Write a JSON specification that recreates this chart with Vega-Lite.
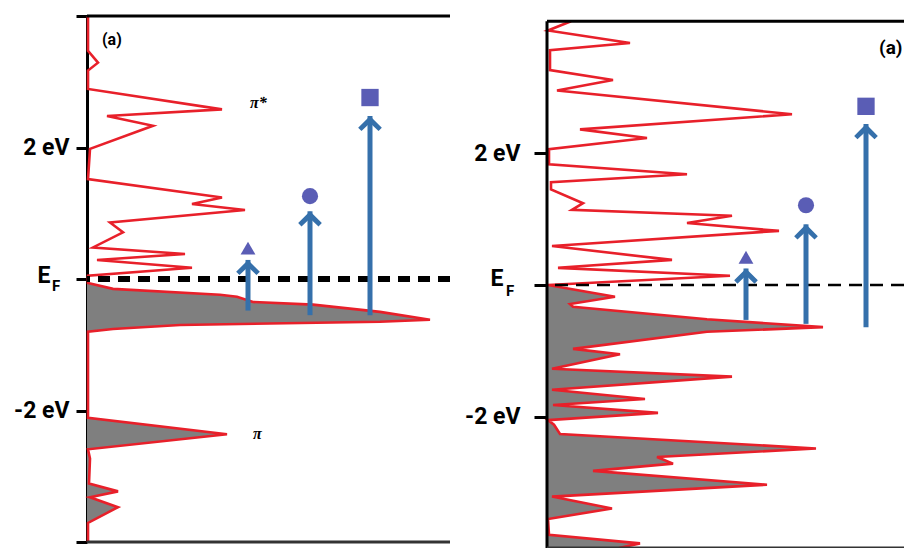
{
  "$schema": "https://vega.github.io/schema/vega-lite/v6.json",
  "padding": {"top": 5, "left": 0, "right": 0, "bottom": 0},
  "spacing": 0,
  "background": "white",
  "config": {"view": {"stroke": null}},
  "datasets": {
    "dosL": [
      {"E": 4.0, "d": 1}, {"E": 3.47, "d": 1}, {"E": 3.29, "d": 11}, {"E": 3.17, "d": 1}, {"E": 2.89, "d": 1},
      {"E": 2.58, "d": 135}, {"E": 2.48, "d": 20}, {"E": 2.33, "d": 66}, {"E": 1.98, "d": 3}, {"E": 1.52, "d": 1},
      {"E": 1.24, "d": 135}, {"E": 1.14, "d": 105}, {"E": 1.05, "d": 158}, {"E": 0.86, "d": 23}, {"E": 0.71, "d": 36},
      {"E": 0.48, "d": 6}, {"E": 0.38, "d": 98}, {"E": 0.29, "d": 10}, {"E": 0.17, "d": 105}, {"E": 0.05, "d": 1},
      {"E": 0.0, "d": 1}, {"E": -0.06, "d": 1}, {"E": -0.15, "d": 26}, {"E": -0.24, "d": 133}, {"E": -0.27, "d": 150},
      {"E": -0.35, "d": 166}, {"E": -0.39, "d": 226}, {"E": -0.5, "d": 293}, {"E": -0.62, "d": 343}, {"E": -0.65, "d": 293},
      {"E": -0.7, "d": 93}, {"E": -0.76, "d": 26}, {"E": -0.8, "d": 1}, {"E": -2.11, "d": 1}, {"E": -2.36, "d": 140},
      {"E": -2.59, "d": 1}, {"E": -2.73, "d": 3}, {"E": -3.11, "d": 2}, {"E": -3.23, "d": 31}, {"E": -3.32, "d": 3},
      {"E": -3.47, "d": 31}, {"E": -3.71, "d": 1}, {"E": -4.0, "d": 1}
    ],
    "dosR": [
      {"E": 4.0, "d": 24}, {"E": 3.86, "d": 1}, {"E": 3.67, "d": 83}, {"E": 3.56, "d": 3}, {"E": 3.26, "d": 3},
      {"E": 3.11, "d": 66}, {"E": 2.95, "d": 10}, {"E": 2.59, "d": 245}, {"E": 2.36, "d": 33}, {"E": 2.23, "d": 100},
      {"E": 2.06, "d": 2}, {"E": 1.83, "d": 2}, {"E": 1.68, "d": 140}, {"E": 1.56, "d": 4}, {"E": 1.45, "d": 4},
      {"E": 1.24, "d": 36}, {"E": 1.14, "d": 25}, {"E": 1.05, "d": 185}, {"E": 0.94, "d": 140}, {"E": 0.82, "d": 232},
      {"E": 0.59, "d": 5}, {"E": 0.38, "d": 125}, {"E": 0.26, "d": 11}, {"E": 0.14, "d": 183}, {"E": 0.0, "d": 1},
      {"E": -0.18, "d": 68}, {"E": -0.29, "d": 23}, {"E": -0.33, "d": 26}, {"E": -0.52, "d": 160}, {"E": -0.64, "d": 276},
      {"E": -0.71, "d": 160}, {"E": -0.97, "d": 26}, {"E": -1.05, "d": 73}, {"E": -1.27, "d": 5}, {"E": -1.39, "d": 185},
      {"E": -1.59, "d": 5}, {"E": -1.73, "d": 98}, {"E": -1.82, "d": 6}, {"E": -1.94, "d": 111}, {"E": -2.05, "d": 1},
      {"E": -2.12, "d": 7}, {"E": -2.26, "d": 13}, {"E": -2.48, "d": 269}, {"E": -2.61, "d": 110}, {"E": -2.71, "d": 126},
      {"E": -2.82, "d": 46}, {"E": -3.03, "d": 220}, {"E": -3.21, "d": 5}, {"E": -3.39, "d": 65}, {"E": -3.55, "d": 1},
      {"E": -3.79, "d": 2}, {"E": -3.92, "d": 93}, {"E": -3.99, "d": 72}
    ],
    "arrowsL": [
      {"d": 161, "from": -0.48, "to": 0.29, "m": "triangle", "mE": 0.47},
      {"d": 223, "from": -0.55, "to": 1.03, "m": "circle", "mE": 1.26},
      {"d": 283, "from": -0.55, "to": 2.48, "m": "square", "mE": 2.76}
    ],
    "arrowsR": [
      {"d": 199, "from": -0.53, "to": 0.25, "m": "triangle", "mE": 0.42},
      {"d": 259, "from": -0.59, "to": 0.92, "m": "circle", "mE": 1.21},
      {"d": 319, "from": -0.64, "to": 2.44, "m": "square", "mE": 2.71}
    ],
    "labelsL": [
      {"d": 15, "E": 3.64, "t": "(a)", "kind": "panel"},
      {"d": 163, "E": 2.68, "t": "π*", "kind": "orbital"},
      {"d": 166, "E": -2.36, "t": "π", "kind": "orbital"}
    ],
    "labelsR": [
      {"d": 332, "E": 3.6, "t": "(a)", "kind": "panel"}
    ]
  },
  "hconcat": [
    {
      "width": 363,
      "height": 526,
      "layer": [
        {
          "data": {"name": "dosL"},
          "transform": [{"filter": "datum.E <= 0"}],
          "mark": {"type": "area", "orient": "horizontal", "color": "#7f7f7f", "opacity": 1},
          "encoding": {
            "x": {"field": "d", "type": "quantitative", "stack": null, "scale": {"domain": [0, 363], "nice": false, "zero": false}, "axis": null},
            "y": {"field": "E", "type": "quantitative", "scale": {"domain": [-4, 4], "nice": false, "zero": false},
              "axis": {"values": [-4, -2, 0, 2, 4], "labelExpr": "datum.value == 2 ? '2 eV' : datum.value == -2 ? '-2 eV' : ''",
                "title": null, "grid": false, "domainColor": "black", "domainWidth": 3, "tickColor": "black", "tickWidth": 3,
                "tickSize": 11, "labelPadding": 7, "labelFont": "Roboto", "labelFontSize": 23, "labelFontWeight": "bold",
                "labelColor": "black", "labelFlush": false, "labelOverlap": false, "labelBound": false, "minExtent": 87, "maxExtent": 87}}
          }
        },
        {
          "data": {"name": "dosL"},
          "mark": {"type": "line", "color": "#e8202a", "strokeWidth": 2.6},
          "encoding": {
            "x": {"field": "d", "type": "quantitative"},
            "y": {"field": "E", "type": "quantitative"},
            "order": {"field": "E", "type": "quantitative"}
          }
        },
        {
          "data": {"values": [{}]},
          "mark": {"type": "rule", "color": "black", "strokeWidth": 3},
          "encoding": {"y": {"datum": 4}}
        },
        {
          "data": {"values": [{}]},
          "mark": {"type": "rule", "color": "#333333", "strokeWidth": 3},
          "encoding": {"y": {"datum": -4}}
        },
        {
          "data": {"values": [{}]},
          "mark": {"type": "rule", "color": "black", "strokeWidth": 6, "strokeDash": [12, 8]},
          "encoding": {"y": {"datum": 0}}
        },
        {
          "data": {"name": "arrowsL"},
          "mark": {"type": "rule", "color": "#3570ab", "strokeWidth": 5},
          "encoding": {
            "x": {"field": "d", "type": "quantitative"},
            "y": {"field": "from", "type": "quantitative"},
            "y2": {"field": "to"}
          }
        },
        {
          "data": {"name": "arrowsL"},
          "mark": {"type": "point", "shape": "M0,0L1,1L0.72,1.28L0,0.6L-0.72,1.28L-1,1Z", "filled": true, "color": "#3570ab", "opacity": 1, "size": 560},
          "encoding": {
            "x": {"field": "d", "type": "quantitative"},
            "y": {"field": "to", "type": "quantitative"}
          }
        },
        {
          "data": {"name": "arrowsL"},
          "mark": {"type": "point", "filled": true, "color": "#5a5db5", "opacity": 1},
          "encoding": {
            "x": {"field": "d", "type": "quantitative"},
            "y": {"field": "mE", "type": "quantitative"},
            "shape": {"field": "m", "type": "nominal", "scale": {"domain": ["triangle", "circle", "square"], "range": ["triangle-up", "circle", "square"]}, "legend": null},
            "size": {"field": "m", "type": "nominal", "scale": {"domain": ["triangle", "circle", "square"], "range": [220, 300, 200]}, "legend": null}
          }
        },
        {
          "data": {"name": "labelsL"},
          "transform": [{"filter": "datum.kind == 'panel'"}],
          "mark": {"type": "text", "align": "left", "baseline": "middle", "font": "Roboto", "fontWeight": "bold", "fontSize": 16, "color": "black"},
          "encoding": {
            "x": {"field": "d", "type": "quantitative"},
            "y": {"field": "E", "type": "quantitative"},
            "text": {"field": "t"}
          }
        },
        {
          "data": {"name": "labelsL"},
          "transform": [{"filter": "datum.kind == 'orbital'"}],
          "mark": {"type": "text", "align": "left", "baseline": "middle", "font": "Liberation Serif", "fontStyle": "italic", "fontWeight": "bold", "fontSize": 16, "color": "black"},
          "encoding": {
            "x": {"field": "d", "type": "quantitative"},
            "y": {"field": "E", "type": "quantitative"},
            "text": {"field": "t"}
          }
        },
        {
          "data": {"values": [{}]},
          "mark": {"type": "text", "text": "E", "align": "center", "baseline": "middle", "font": "Roboto", "fontWeight": "bold", "fontSize": 23, "color": "black", "dx": -43, "dy": -3},
          "encoding": {"x": {"datum": 0}, "y": {"datum": 0}}
        },
        {
          "data": {"values": [{}]},
          "mark": {"type": "text", "text": "F", "align": "center", "baseline": "middle", "font": "Roboto", "fontWeight": "bold", "fontSize": 15, "color": "black", "dx": -31, "dy": 7},
          "encoding": {"x": {"datum": 0}, "y": {"datum": 0}}
        }
      ]
    },
    {
      "width": 357,
      "height": 532,
      "layer": [
        {
          "data": {"name": "dosR"},
          "transform": [{"filter": "datum.E <= 0"}],
          "mark": {"type": "area", "orient": "horizontal", "color": "#7f7f7f", "opacity": 1},
          "encoding": {
            "x": {"field": "d", "type": "quantitative", "stack": null, "scale": {"domain": [0, 357], "nice": false, "zero": false}, "axis": null},
            "y": {"field": "E", "type": "quantitative", "scale": {"domain": [-3.99, 4.08], "nice": false, "zero": false},
              "axis": {"values": [-2, 0, 2], "labelExpr": "datum.value == 2 ? '2 eV' : datum.value == -2 ? '-2 eV' : ''",
                "title": null, "grid": false, "domain": false, "tickColor": "black", "tickWidth": 3,
                "tickSize": 13, "labelPadding": 14, "labelFont": "Roboto", "labelFontSize": 23, "labelFontWeight": "bold",
                "labelColor": "black", "labelFlush": false, "labelOverlap": false, "labelBound": false, "minExtent": 94, "maxExtent": 94}}
          }
        },
        {
          "data": {"name": "dosR"},
          "mark": {"type": "line", "color": "#e8202a", "strokeWidth": 2.6},
          "encoding": {
            "x": {"field": "d", "type": "quantitative"},
            "y": {"field": "E", "type": "quantitative"},
            "order": {"field": "E", "type": "quantitative"}
          }
        },
        {
          "data": {"values": [{}]},
          "mark": {"type": "rule", "color": "black", "strokeWidth": 3},
          "encoding": {"x": {"datum": 0}, "y": {"datum": -3.99}, "y2": {"datum": 4}}
        },
        {
          "data": {"values": [{}]},
          "mark": {"type": "rule", "color": "black", "strokeWidth": 3},
          "encoding": {"y": {"datum": 4}}
        },
        {
          "data": {"values": [{}]},
          "mark": {"type": "rule", "color": "#333333", "strokeWidth": 3},
          "encoding": {"y": {"datum": -3.99}}
        },
        {
          "data": {"values": [{}]},
          "mark": {"type": "rule", "color": "black", "strokeWidth": 2.5, "strokeDash": [13, 8]},
          "encoding": {"y": {"datum": 0}}
        },
        {
          "data": {"name": "arrowsR"},
          "mark": {"type": "rule", "color": "#3570ab", "strokeWidth": 5},
          "encoding": {
            "x": {"field": "d", "type": "quantitative"},
            "y": {"field": "from", "type": "quantitative"},
            "y2": {"field": "to"}
          }
        },
        {
          "data": {"name": "arrowsR"},
          "mark": {"type": "point", "shape": "M0,0L1,1L0.72,1.28L0,0.6L-0.72,1.28L-1,1Z", "filled": true, "color": "#3570ab", "opacity": 1, "size": 560},
          "encoding": {
            "x": {"field": "d", "type": "quantitative"},
            "y": {"field": "to", "type": "quantitative"}
          }
        },
        {
          "data": {"name": "arrowsR"},
          "mark": {"type": "point", "filled": true, "color": "#5a5db5", "opacity": 1},
          "encoding": {
            "x": {"field": "d", "type": "quantitative"},
            "y": {"field": "mE", "type": "quantitative"},
            "shape": {"field": "m", "type": "nominal", "scale": {"domain": ["triangle", "circle", "square"], "range": ["triangle-up", "circle", "square"]}, "legend": null},
            "size": {"field": "m", "type": "nominal", "scale": {"domain": ["triangle", "circle", "square"], "range": [230, 300, 260]}, "legend": null}
          }
        },
        {
          "data": {"name": "labelsR"},
          "mark": {"type": "text", "align": "left", "baseline": "middle", "font": "Roboto", "fontWeight": "bold", "fontSize": 19, "color": "black"},
          "encoding": {
            "x": {"field": "d", "type": "quantitative"},
            "y": {"field": "E", "type": "quantitative"},
            "text": {"field": "t"}
          }
        },
        {
          "data": {"values": [{}]},
          "mark": {"type": "text", "text": "E", "align": "center", "baseline": "middle", "font": "Roboto", "fontWeight": "bold", "fontSize": 23, "color": "black", "dx": -50, "dy": -6},
          "encoding": {"x": {"datum": 0}, "y": {"datum": 0}}
        },
        {
          "data": {"values": [{}]},
          "mark": {"type": "text", "text": "F", "align": "center", "baseline": "middle", "font": "Roboto", "fontWeight": "bold", "fontSize": 15, "color": "black", "dx": -37, "dy": 6},
          "encoding": {"x": {"datum": 0}, "y": {"datum": 0}}
        }
      ]
    }
  ]
}
